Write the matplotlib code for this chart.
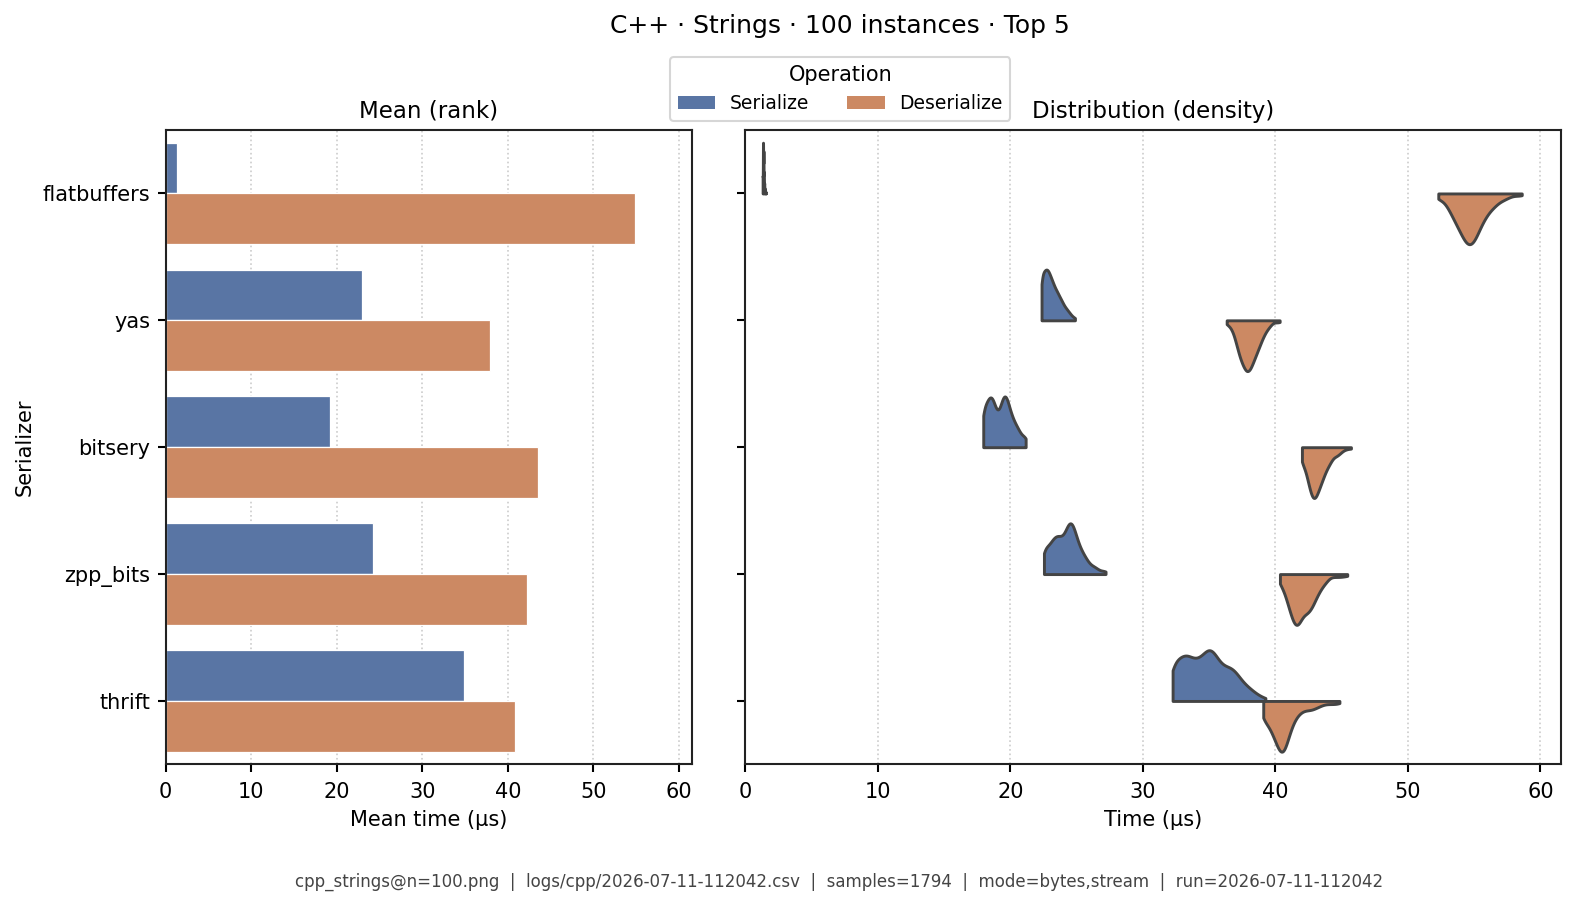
import numpy as np
import pandas as pd
import matplotlib
matplotlib.use("Agg")
import matplotlib.pyplot as plt
import seaborn as sns
from matplotlib.patches import Patch

serializers = ["flatbuffers", "yas", "bitsery", "zpp_bits", "thrift"]
operations = ["Serialize", "Deserialize"]

# mean time per serializer (us)
mean_serialize = [1.3, 23.0, 19.2, 24.2, 34.9]
mean_deserialize = [54.9, 37.95, 43.5, 42.2, 40.8]

# timing samples, (time_us, count) pairs
flatbuffers_ser = [(1.30, 20), (1.33, 60), (1.36, 50), (1.39, 25), (1.42, 12), (1.45, 6), (1.50, 3), (1.55, 1)]
flatbuffers_des = [(52.29, 3), (52.64, 3), (52.99, 6), (53.34, 10), (53.69, 14), (54.04, 18), (54.39, 22),
                   (54.74, 23), (55.09, 20), (55.44, 15), (55.79, 11), (56.14, 8), (56.49, 6), (56.84, 4),
                   (57.19, 3), (57.54, 2), (57.89, 1), (58.24, 1), (58.59, 1)]
yas_ser = [(22.35, 20), (22.5, 18), (22.65, 20), (22.8, 20), (22.95, 18), (23.1, 16), (23.25, 14), (23.4, 12),
           (23.55, 11), (23.7, 9), (23.85, 8), (24.0, 6), (24.15, 5), (24.3, 4), (24.45, 3), (24.6, 2),
           (24.75, 1), (24.87, 1)]
yas_des = [(36.32, 2), (36.57, 3), (36.82, 6), (37.07, 12), (37.32, 18), (37.57, 22), (37.82, 25), (38.07, 24),
           (38.32, 20), (38.57, 16), (38.82, 12), (39.07, 8), (39.32, 5), (39.57, 3), (39.82, 1), (40.07, 1),
           (40.32, 1)]
bitsery_ser = [(17.95, 14), (18.15, 12), (18.35, 15), (18.55, 16), (18.75, 14), (18.95, 10), (19.15, 10),
               (19.35, 14), (19.55, 17), (19.75, 15), (19.95, 11), (20.15, 9), (20.35, 7), (20.55, 6),
               (20.75, 4), (20.95, 3), (21.15, 4)]
bitsery_des = [(42.0, 8), (42.2, 8), (42.4, 13), (42.6, 18), (42.8, 22), (43.0, 22), (43.2, 19), (43.4, 16),
               (43.6, 13), (43.8, 10), (44.0, 8), (44.2, 6), (44.4, 4), (44.6, 4), (44.8, 3), (45.0, 2),
               (45.2, 1), (45.4, 1), (45.7, 1)]
zpp_bits_ser = [(22.53, 11), (22.78, 9), (23.03, 11), (23.28, 13), (23.53, 14), (23.78, 13), (24.03, 13),
                (24.28, 17), (24.53, 20), (24.78, 17), (25.03, 12), (25.28, 9), (25.53, 7), (25.78, 5),
                (26.03, 3), (26.28, 3), (26.53, 2), (26.78, 1), (27.03, 1), (27.18, 1)]
zpp_bits_des = [(40.34, 4), (40.59, 5), (40.84, 9), (41.09, 13), (41.34, 17), (41.59, 19), (41.84, 17),
                (42.09, 14), (42.34, 14), (42.59, 13), (42.84, 11), (43.09, 8), (43.34, 6), (43.59, 4),
                (43.84, 3), (44.09, 1), (44.34, 1), (44.59, 1), (44.84, 1), (45.09, 1), (45.42, 1)]
thrift_ser = [(32.24, 13), (32.59, 10), (32.94, 12), (33.29, 13), (33.64, 11), (33.99, 11), (34.34, 11),
              (34.69, 13), (35.04, 15), (35.39, 13), (35.74, 10), (36.09, 9), (36.44, 9), (36.79, 9),
              (37.14, 7), (37.49, 5), (37.84, 4), (38.19, 3), (38.54, 2), (38.89, 1), (39.24, 1)]
thrift_des = [(39.08, 9), (39.33, 6), (39.58, 9), (39.83, 11), (40.08, 14), (40.33, 17), (40.58, 19),
              (40.83, 14), (41.08, 10), (41.33, 7), (41.58, 5), (41.83, 4), (42.08, 3), (42.33, 3),
              (42.58, 3), (42.83, 3), (43.08, 2), (43.33, 2), (43.58, 1), (43.83, 1), (44.08, 1),
              (44.33, 1), (44.58, 1), (44.83, 1)]

samples = {
    ("flatbuffers", "Serialize"): flatbuffers_ser, ("flatbuffers", "Deserialize"): flatbuffers_des,
    ("yas", "Serialize"): yas_ser, ("yas", "Deserialize"): yas_des,
    ("bitsery", "Serialize"): bitsery_ser, ("bitsery", "Deserialize"): bitsery_des,
    ("zpp_bits", "Serialize"): zpp_bits_ser, ("zpp_bits", "Deserialize"): zpp_bits_des,
    ("thrift", "Serialize"): thrift_ser, ("thrift", "Deserialize"): thrift_des,
}

rows = []
for (name, op), pairs in samples.items():
    t = np.repeat([p[0] for p in pairs], [p[1] for p in pairs])
    rows.append(pd.DataFrame({"serializer": name, "operation": op, "time": t}))
df = pd.concat(rows, ignore_index=True)

df_mean = pd.DataFrame({
    "serializer": serializers * 2,
    "operation": ["Serialize"] * 5 + ["Deserialize"] * 5,
    "mean": mean_serialize + mean_deserialize,
})

palette = {"Serialize": "#4C72B0", "Deserialize": "#DD8452"}

plt.rcParams["font.size"] = 10
plt.rcParams["axes.linewidth"] = 1.0
plt.rcParams["axes.edgecolor"] = "#222222"

fig, (ax1, ax2) = plt.subplots(1, 2, figsize=(10.5, 6.04), dpi=150, sharey=True,
                               gridspec_kw={"width_ratios": [526.3, 815.5]})
fig.subplots_adjust(left=0.1052, right=0.9911, top=0.8565, bottom=0.1563, wspace=0.0795)

sns.barplot(data=df_mean, x="mean", y="serializer", hue="operation", order=serializers,
            hue_order=operations, palette=palette, saturation=0.75, edgecolor="white",
            linewidth=0.6, errorbar=None, legend=False, ax=ax1)

sns.violinplot(data=df, x="time", y="serializer", hue="operation", order=serializers,
               hue_order=operations, palette=palette, saturation=0.75, split=True, inner=None,
               cut=0, density_norm="width", bw_adjust=0.65, linewidth=1.4, linecolor="#444444",
               legend=False, ax=ax2)

for ax in (ax1, ax2):
    ax.set_xlim(0, 61.55)
    ax.set_ylim(4.5, -0.5)
    ax.grid(axis="x", linestyle=":", color="#cccccc", linewidth=0.8)
    ax.set_axisbelow(True)
    ax.tick_params(width=1.0, length=3.8, labelsize=10)
    ax.tick_params(axis="x", pad=4.5)

ax1.set_title("Mean (rank)", fontsize=11)
ax1.set_xlabel("Mean time (μs)", fontsize=10)
ax1.set_ylabel("Serializer", fontsize=10)
ax2.set_title("Distribution (density)", fontsize=11)
ax2.set_xlabel("Time (μs)", fontsize=10)
ax2.set_ylabel("")
ax2.tick_params(labelleft=False)

handles = [Patch(facecolor=sns.desaturate(palette[op], 0.75), label=op) for op in operations]
fig.legend(handles=handles, title="Operation", loc="upper center", bbox_to_anchor=(0.5335, 0.947),
           ncol=2, fontsize=9, title_fontsize=10, frameon=True)

fig.suptitle("C++ · Strings · 100 instances · Top 5", fontsize=12, x=0.533, y=0.985)
fig.text(0.533, 0.0265,
         "cpp_strings@n=100.png  |  logs/cpp/2026-07-11-112042.csv  |  samples=1794  |  "
         "mode=bytes,stream  |  run=2026-07-11-112042",
         ha="center", va="center", fontsize=8, color="#444444")

fig.savefig("out.png", dpi=150)
